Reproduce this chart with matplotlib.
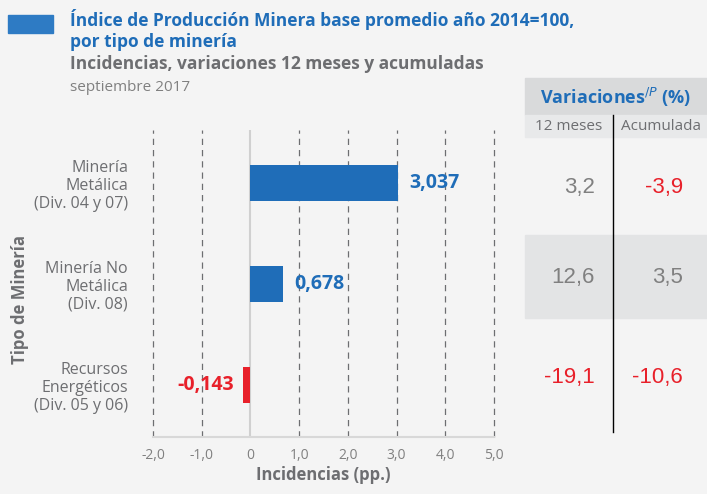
import matplotlib.pyplot as plt
from matplotlib.patches import Rectangle

plt.rcParams['font.family'] = ['Open Sans', 'DejaVu Sans']

# datos
categorias = ['Minería\nMetálica\n(Div. 04 y 07)',
              'Minería No\nMetálica\n(Div. 08)',
              'Recursos\nEnergéticos\n(Div. 05 y 06)']
incidencias = [3.037, 0.678, -0.143]
etiquetas = ['3,037', '0,678', '-0,143']
var_12m = ['3,2', '12,6', '-19,1']
var_acum = ['-3,9', '3,5', '-10,6']
xticks = [-2, -1, 0, 1, 2, 3, 4, 5]
xticklabels = ['-2,0', '-1,0', '0', '1,0', '2,0', '3,0', '4,0', '5,0']

bg = '#f4f4f4'
azul = '#1f6db8'
rojo = '#e8202a'
gris = '#808080'
gris_osc = '#6d6e71'

W, H = 707, 494
fig = plt.figure(figsize=(7.07, 4.94), dpi=100, facecolor=bg)

def fx(px):
    return px / W

def fy(py):
    return 1 - py / H

# cabecera
fig.patches.append(Rectangle((fx(8), fy(33)), fx(45), 18 / H, transform=fig.transFigure,
                             color='#2e7bc4', zorder=1))
fig.text(fx(70), fy(20), 'Índice de Producción Minera base promedio año 2014=100,',
         color=azul, fontsize=12.5, fontweight='bold', va='center')
fig.text(fx(70), fy(42), 'por tipo de minería', color=azul, fontsize=12.5,
         fontweight='bold', va='center')
fig.text(fx(70), fy(64), 'Incidencias, variaciones 12 meses y acumuladas', color=gris_osc,
         fontsize=12.5, fontweight='bold', va='center')
fig.text(fx(70), fy(87), 'septiembre 2017', color=gris, fontsize=11, va='center')

# grafico
ax = fig.add_axes([fx(153), fy(437), fx(494) - fx(153), (437 - 130) / H])
ax.set_facecolor(bg)
y = [0, 1, 2]
colores = [azul if v >= 0 else rojo for v in incidencias]
ax.barh(y, incidencias, height=0.35, color=colores, zorder=3)
for xi in xticks:
    if xi == 0:
        ax.axvline(0, color='#d0d0d0', lw=1.5, zorder=2)
    else:
        ax.axvline(xi, color=gris_osc, lw=0.9, ls=(0, (5, 4)), zorder=1, clip_on=False)
for yi, v, t in zip(y, incidencias, etiquetas):
    if v >= 0:
        ax.text(v + 0.22, yi, t, color=azul, fontsize=14, fontweight='bold', va='center', ha='left')
    else:
        ax.text(v - 0.2, yi, t, color=rojo, fontsize=14, fontweight='bold', va='center', ha='right')

ax.set_xlim(-2, 5)
ax.set_ylim(2.515, -0.525)
ax.set_xticks(xticks)
ax.set_xticklabels(xticklabels, color=gris, fontsize=10)
ax.set_yticks(y)
ax.set_yticklabels(categorias, color=gris_osc, fontsize=11.5, linespacing=1.15)
ax.tick_params(axis='y', length=0, pad=18)
ax.tick_params(axis='x', length=0, pad=8)
for s in ['top', 'right', 'left']:
    ax.spines[s].set_visible(False)
ax.spines['bottom'].set_color('#d8d8d8')
ax.spines['bottom'].set_linewidth(1.5)
ax.set_xlabel('Incidencias (pp.)', color=gris_osc, fontsize=12, fontweight='bold', labelpad=2)
fig.text(fx(20), fy(300), 'Tipo de Minería', rotation=90, color=gris_osc, fontsize=12,
         fontweight='bold', ha='center', va='center')

# tabla de variaciones
fig.patches.append(Rectangle((fx(525), fy(115)), fx(182), 37 / H, transform=fig.transFigure,
                             color='#d9dadb', zorder=0))
fig.patches.append(Rectangle((fx(525), fy(137)), fx(182), 22 / H, transform=fig.transFigure,
                             color='#e8e9ea', zorder=0))
fig.patches.append(Rectangle((fx(525), fy(318)), fx(182), 83 / H, transform=fig.transFigure,
                             color='#e3e4e5', zorder=0))
fig.lines.append(plt.Line2D([fx(613), fx(613)], [fy(115), fy(432)], transform=fig.transFigure,
                            color='black', lw=1))
fig.text(fx(616), fy(97), 'Variaciones$^{/P}$ (%)', color=azul, fontsize=13,
         fontweight='bold', ha='center', va='center')
fig.text(fx(569), fy(127), '12 meses', color=gris_osc, fontsize=11, ha='center', va='center')
fig.text(fx(661), fy(127), 'Acumulada', color=gris_osc, fontsize=11, ha='center', va='center')

filas_y = [187, 278, 377]
for py, a, b in zip(filas_y, var_12m, var_acum):
    fig.text(fx(595), fy(py), a, color=rojo if a.startswith('-') else gris, fontsize=16,
             ha='right', va='center', family='Liberation Sans')
    fig.text(fx(683), fy(py), b, color=rojo if b.startswith('-') else gris, fontsize=16,
             ha='right', va='center', family='Liberation Sans')

fig.savefig('out.png', dpi=100, facecolor=bg)
